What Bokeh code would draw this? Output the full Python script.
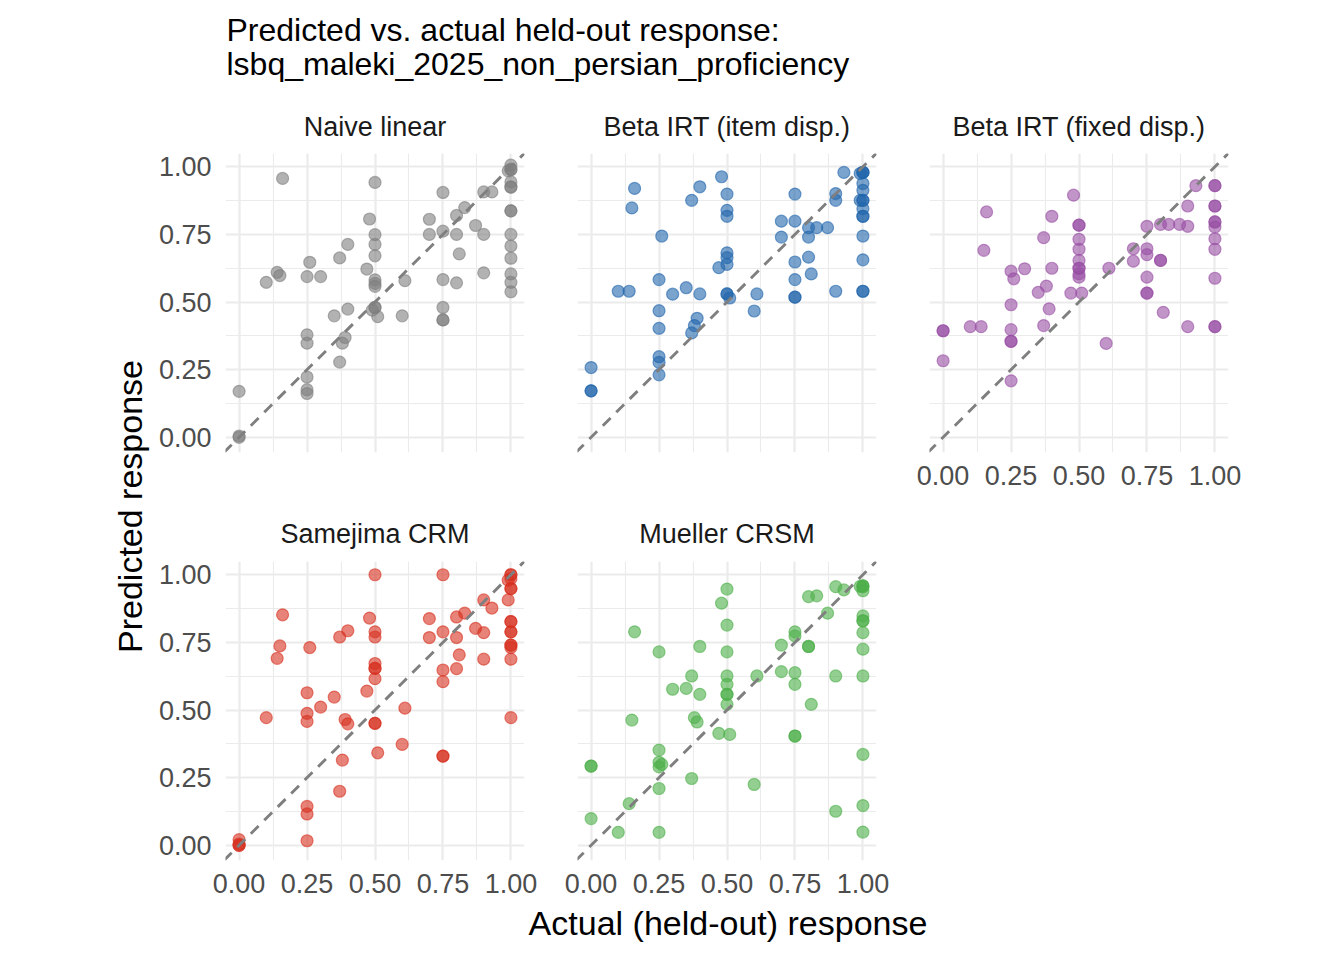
from bokeh.plotting import figure
from bokeh.layouts import row, column
from bokeh.models import FixedTicker, NumeralTickFormatter, Slope, Range1d
from bokeh.embed import file_html
from bokeh.resources import INLINE
from bokeh.core.properties import value

FONT = "Liberation Sans"
TITLE_LINES = ["Predicted vs. actual held-out response:",
               "lsbq_maleki_2025_non_persian_proficiency"]
X_LABEL = "Actual (held-out) response"
Y_LABEL = "Predicted response"
TICKS = [0.0, 0.25, 0.5, 0.75, 1.0]
MINOR_TICKS = [0.125, 0.375, 0.625, 0.875]
PANEL_NAMES = ["Naive linear", "Beta IRT (item disp.)", "Beta IRT (fixed disp.)",
               "Samejima CRM", "Mueller CRSM"]
COLORS = ["#7F7F7F", "#2166AC", "#984EA3", "#D7301F", "#4DAF4A"]

# ---- data: actual (x) vs predicted (y) per model ----
naive_x = [0, 0, 0, 0.16, 0.10, 0.14, 0.15, 0.25, 0.26, 0.30,
           0.25, 0.25, 0.25, 0.25, 0.25, 0.35, 0.37, 0.40, 0.40, 0.39,
           0.38, 0.37, 0.47, 0.48, 0.50, 0.50, 0.50, 0.50, 0.50, 0.50,
           0.50, 0.50, 0.50, 0.49, 0.51, 0.61, 0.60, 0.70, 0.70, 0.75,
           0.75, 0.75, 0.75, 0.75, 0.75, 0.80, 0.83, 0.80, 0.81, 0.80,
           0.87, 0.90, 0.90, 0.90, 0.93, 1.0, 1.0, 1.0, 1.0, 1.0,
           1.0, 1.0, 1.0, 1.0, 1.0, 1.0, 1.0, 1.0, 1.0, 0.99]
naive_y = [0.17, 0.005, 0.0, 0.957, 0.573, 0.61, 0.598, 0.594, 0.647, 0.594,
           0.379, 0.348, 0.223, 0.176, 0.162, 0.449, 0.663, 0.713, 0.474, 0.369,
           0.348, 0.278, 0.622, 0.807, 0.942, 0.749, 0.713, 0.671, 0.582, 0.569,
           0.558, 0.48, 0.48, 0.47, 0.446, 0.579, 0.449, 0.806, 0.75, 0.905,
           0.762, 0.583, 0.48, 0.434, 0.434, 0.82, 0.849, 0.75, 0.678, 0.571,
           0.783, 0.75, 0.608, 0.907, 0.907, 1.006, 0.99, 0.99, 0.944, 0.925,
           0.925, 0.837, 0.837, 0.75, 0.707, 0.662, 0.604, 0.573, 0.538, 0.985]

beta_item_x = [0, 0, 0, 0.10, 0.14, 0.16, 0.15, 0.25, 0.26, 0.25,
               0.25, 0.25, 0.25, 0.25, 0.30, 0.35, 0.40, 0.37, 0.40, 0.39,
               0.38, 0.37, 0.48, 0.50, 0.50, 0.50, 0.50, 0.50, 0.50, 0.50,
               0.50, 0.47, 0.51, 0.61, 0.60, 0.70, 0.70, 0.75, 0.75, 0.75,
               0.75, 0.75, 0.75, 0.80, 0.80, 0.80, 0.81, 0.83, 0.87, 0.90,
               0.90, 0.90, 0.93, 1.0, 1.0, 1.0, 1.0, 1.0, 1.0, 1.0,
               1.0, 1.0, 1.0, 1.0, 1.0, 1.0, 1.0, 0.99, 0.99]
beta_item_y = [0.258, 0.172, 0.172, 0.54, 0.54, 0.92, 0.848, 0.583, 0.744, 0.468,
               0.403, 0.298, 0.277, 0.231, 0.529, 0.553, 0.53, 0.876, 0.926, 0.44,
               0.413, 0.386, 0.963, 0.899, 0.839, 0.817, 0.682, 0.664, 0.639, 0.53,
               0.53, 0.627, 0.515, 0.53, 0.467, 0.799, 0.74, 0.899, 0.799, 0.648,
               0.583, 0.518, 0.518, 0.775, 0.74, 0.666, 0.604, 0.775, 0.775, 0.901,
               0.876, 0.54, 0.979, 0.979, 0.979, 0.979, 0.938, 0.913, 0.876, 0.876,
               0.845, 0.817, 0.817, 0.744, 0.656, 0.54, 0.54, 0.975, 0.876]

beta_fixed_x = [0, 0, 0, 0.10, 0.14, 0.15, 0.16, 0.25, 0.26, 0.25,
                0.25, 0.25, 0.25, 0.25, 0.30, 0.35, 0.38, 0.37, 0.40, 0.40,
                0.39, 0.37, 0.48, 0.50, 0.50, 0.50, 0.50, 0.50, 0.50, 0.50,
                0.50, 0.50, 0.47, 0.51, 0.60, 0.61, 0.70, 0.70, 0.75, 0.75,
                0.75, 0.75, 0.75, 0.75, 0.80, 0.80, 0.80, 0.83, 0.87, 0.90,
                0.90, 0.90, 0.81, 0.93, 1.0, 1.0, 1.0, 1.0, 1.0, 1.0,
                1.0, 1.0, 1.0, 1.0, 1.0, 1.0]
beta_fixed_y = [0.394, 0.394, 0.283, 0.409, 0.409, 0.691, 0.833, 0.614, 0.586, 0.49,
                0.398, 0.355, 0.355, 0.209, 0.623, 0.536, 0.559, 0.738, 0.817, 0.625,
                0.475, 0.413, 0.895, 0.784, 0.784, 0.732, 0.695, 0.654, 0.625, 0.625,
                0.604, 0.592, 0.533, 0.533, 0.347, 0.625, 0.697, 0.651, 0.78, 0.697,
                0.675, 0.592, 0.533, 0.533, 0.654, 0.654, 0.787, 0.787, 0.787, 0.78,
                0.409, 0.855, 0.462, 0.93, 0.93, 0.93, 0.855, 0.855, 0.796, 0.796,
                0.777, 0.734, 0.695, 0.588, 0.409, 0.409]

samejima_x = [0, 0, 0, 0, 0.10, 0.14, 0.15, 0.16, 0.25, 0.25,
              0.25, 0.26, 0.25, 0.25, 0.25, 0.30, 0.35, 0.37, 0.40, 0.39,
              0.40, 0.38, 0.37, 0.47, 0.48, 0.50, 0.50, 0.50, 0.50, 0.50,
              0.50, 0.50, 0.50, 0.50, 0.51, 0.60, 0.61, 0.70, 0.70, 0.75,
              0.75, 0.75, 0.75, 0.75, 0.75, 0.80, 0.83, 0.80, 0.81, 0.80,
              0.87, 0.90, 0.90, 0.90, 0.93, 1.0, 1.0, 1.0, 1.0, 1.0,
              1.0, 1.0, 1.0, 1.0, 1.0, 1.0, 1.0, 1.0, 1.0, 0.99,
              0.99]
samejima_y = [0.021, 0.0, 0.0, 0.005, 0.472, 0.691, 0.737, 0.852, 0.564, 0.488,
              0.458, 0.731, 0.144, 0.116, 0.017, 0.511, 0.548, 0.77, 0.793, 0.465,
              0.449, 0.315, 0.2, 0.57, 0.84, 1.0, 0.789, 0.77, 0.672, 0.654,
              0.654, 0.616, 0.451, 0.451, 0.342, 0.373, 0.507, 0.838, 0.768, 1.0,
              0.789, 0.648, 0.605, 0.33, 0.33, 0.844, 0.858, 0.768, 0.704, 0.653,
              0.802, 0.786, 0.688, 0.907, 0.877, 1.0, 1.0, 0.985, 0.949, 0.949,
              0.827, 0.827, 0.789, 0.789, 0.74, 0.74, 0.731, 0.688, 0.472, 0.98,
              0.907]

mueller_x = [0, 0, 0, 0.10, 0.14, 0.15, 0.16, 0.25, 0.25, 0.25,
             0.25, 0.25, 0.25, 0.26, 0.30, 0.35, 0.37, 0.40, 0.40, 0.38,
             0.39, 0.37, 0.48, 0.50, 0.50, 0.50, 0.50, 0.50, 0.50, 0.50,
             0.50, 0.47, 0.51, 0.60, 0.61, 0.70, 0.70, 0.75, 0.75, 0.75,
             0.75, 0.75, 0.75, 0.80, 0.80, 0.80, 0.83, 0.81, 0.87, 0.90,
             0.90, 0.90, 0.93, 1.0, 1.0, 1.0, 1.0, 1.0, 1.0, 1.0,
             1.0, 1.0, 1.0, 1.0, 1.0, 1.0, 0.99]
mueller_y = [0.293, 0.293, 0.099, 0.048, 0.154, 0.463, 0.789, 0.715, 0.352, 0.307,
             0.29, 0.21, 0.048, 0.299, 0.577, 0.58, 0.626, 0.735, 0.558, 0.472,
             0.456, 0.247, 0.895, 0.947, 0.814, 0.715, 0.626, 0.595, 0.558, 0.558,
             0.521, 0.414, 0.41, 0.225, 0.626, 0.74, 0.642, 0.789, 0.774, 0.638,
             0.595, 0.404, 0.404, 0.735, 0.735, 0.919, 0.922, 0.521, 0.858, 0.956,
             0.626, 0.126, 0.944, 0.959, 0.959, 0.955, 0.941, 0.848, 0.83, 0.83,
             0.786, 0.725, 0.626, 0.336, 0.147, 0.049, 0.957]

PANEL_X = [naive_x, beta_item_x, beta_fixed_x, samejima_x, mueller_x]
PANEL_Y = [naive_y, beta_item_y, beta_fixed_y, samejima_y, mueller_y]

# ---- layout geometry (px) ----
FRAME = 299
XR = (-0.05, 1.05)
YR = (-0.056, 1.049)
LEFT_W = 152
HEAD_H = 98
FOOT_H = 50
COL_BORDERS = [(73, 26), (27, 26), (27, 60)]
ROW_BORDERS = [(55, 50), (59, 45)]
STRIP_STANDOFF = [23, 26]
TXT = "#1A1A1A"
TICK_TXT = "#4D4D4D"
GRID = "#EBEBEB"


def panel(idx, col, rw, show_x, show_y):
    bl, br = COL_BORDERS[col]
    bt, bb = ROW_BORDERS[rw]
    p = figure(width=bl + FRAME + br, height=bt + FRAME + bb,
               x_range=Range1d(*XR), y_range=Range1d(*YR),
               output_backend="svg", toolbar_location=None,
               min_border_left=bl, min_border_right=br,
               min_border_top=bt, min_border_bottom=bb,
               title=PANEL_NAMES[idx])
    p.outline_line_color = None
    p.border_fill_color = "white"
    p.background_fill_color = "white"
    t = p.title
    t.align = "center"
    t.text_font = FONT
    t.text_font_size = "27px"
    t.text_font_style = "normal"
    t.text_color = TXT
    t.standoff = STRIP_STANDOFF[rw]
    for ax in list(p.xaxis) + list(p.yaxis):
        ax.ticker = FixedTicker(ticks=TICKS, minor_ticks=MINOR_TICKS)
        ax.formatter = NumeralTickFormatter(format="0.00")
        ax.axis_line_color = None
        ax.major_tick_line_color = None
        ax.minor_tick_line_color = None
        ax.major_tick_out = 0
        ax.major_tick_in = 0
        ax.minor_tick_out = 0
        ax.minor_tick_in = 0
        ax.major_label_text_font = FONT
        ax.major_label_text_font_size = "27px"
        ax.major_label_text_color = TICK_TXT
    p.yaxis.major_label_standoff = 14
    p.xaxis.major_label_standoff = 13
    for g in list(p.xgrid) + list(p.ygrid):
        g.ticker = FixedTicker(ticks=TICKS, minor_ticks=MINOR_TICKS)
        g.grid_line_color = GRID
        g.grid_line_width = 2.2
        g.minor_grid_line_color = GRID
        g.minor_grid_line_width = 1.1
    p.xaxis.visible = show_x
    p.yaxis.visible = show_y
    c = COLORS[idx]
    p.scatter(PANEL_X[idx], PANEL_Y[idx], size=12, marker="circle",
              fill_color=c, fill_alpha=0.6, line_color=c, line_alpha=0.6,
              line_width=1.2)
    p.add_layout(Slope(gradient=1, y_intercept=0, line_color="#7F7F7F",
                       line_width=2.9, line_dash="11 8"))
    return p


def blank(w, h):
    p = figure(width=w, height=h, x_range=Range1d(0, w), y_range=Range1d(0, h),
               output_backend="svg", toolbar_location=None, min_border=0,
               x_axis_location=None, y_axis_location=None)
    p.outline_line_color = None
    p.border_fill_color = "white"
    p.background_fill_color = "white"
    for g in list(p.xgrid) + list(p.ygrid):
        g.visible = False
    return p


p1 = panel(0, 0, 0, False, True)
p2 = panel(1, 1, 0, False, False)
p3 = panel(2, 2, 0, True, False)
p4 = panel(3, 0, 1, True, True)
p5 = panel(4, 1, 1, True, False)

grid_w = sum(b[0] + FRAME + b[1] for b in COL_BORDERS)
mid_h = sum(b[0] + FRAME + b[1] for b in ROW_BORDERS)
total_w = LEFT_W + grid_w

head = blank(total_w, HEAD_H)
head.text(x=[226, 226], y=[HEAD_H - 29, HEAD_H - 63.4], text=TITLE_LINES,
          text_font=value(FONT), text_font_size="32px", text_color="black",
          text_align="left", text_baseline="middle")

left = blank(LEFT_W, mid_h)
left.text(x=[129], y=[mid_h - (506 - HEAD_H)], text=[Y_LABEL],
          angle=1.5707963267948966,
          text_font=value(FONT), text_font_size="34px", text_color="black",
          text_align="center", text_baseline="middle")

foot = blank(total_w, FOOT_H)
foot.text(x=[727.5], y=[FOOT_H - 17.2], text=[X_LABEL],
          text_font=value(FONT), text_font_size="34px", text_color="black",
          text_align="center", text_baseline="middle")

layout = column(head, row(left, column(row(p1, p2, p3), row(p4, p5))), foot)

with open("out.html", "w") as f:
    f.write(file_html(layout, INLINE))
